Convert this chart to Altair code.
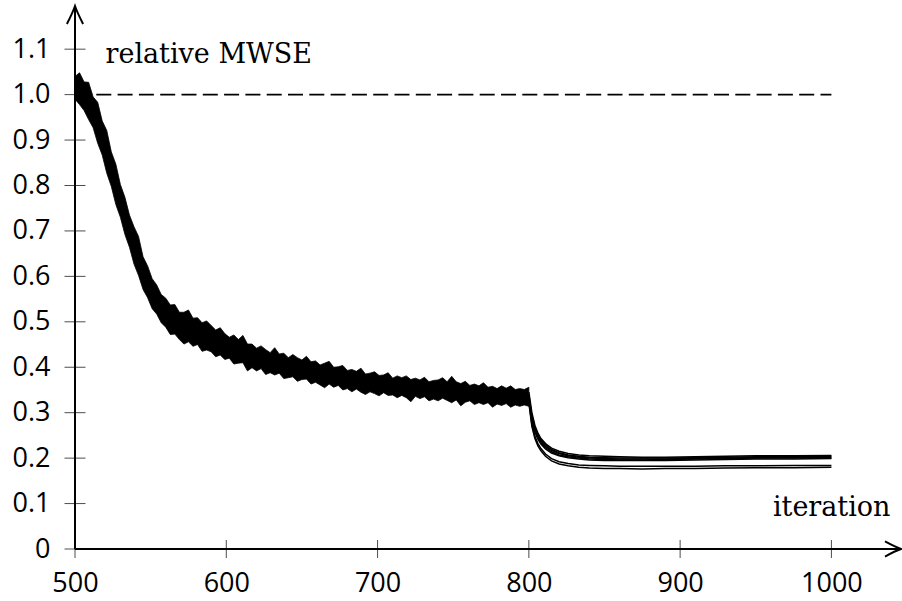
import altair as alt
import pandas as pd

# ---------------- data ----------------
band_iter = list(range(500, 801, 3))
band_upper = [
    1.040, 1.048, 1.028, 1.027, 0.995, 0.983, 0.942, 0.921, 0.874, 0.847,
    0.802, 0.774, 0.735, 0.709, 0.688, 0.643, 0.623, 0.595, 0.581, 0.560,
    0.552, 0.537, 0.538, 0.521, 0.521, 0.526, 0.508, 0.509, 0.498, 0.502,
    0.492, 0.482, 0.487, 0.474, 0.466, 0.471, 0.461, 0.470, 0.451, 0.451,
    0.442, 0.447, 0.439, 0.432, 0.443, 0.429, 0.431, 0.421, 0.428, 0.421,
    0.416, 0.424, 0.412, 0.414, 0.405, 0.409, 0.413, 0.400, 0.401, 0.404,
    0.393, 0.395, 0.391, 0.398, 0.385, 0.387, 0.390, 0.382, 0.383, 0.388,
    0.376, 0.381, 0.377, 0.381, 0.373, 0.376, 0.372, 0.378, 0.368, 0.371,
    0.372, 0.377, 0.368, 0.380, 0.368, 0.364, 0.369, 0.360, 0.363, 0.359,
    0.366, 0.356, 0.358, 0.353, 0.359, 0.354, 0.359, 0.351, 0.353, 0.351,
    0.356,
]
band_lower = [
    0.990, 0.978, 0.965, 0.945, 0.927, 0.893, 0.867, 0.827, 0.798, 0.758,
    0.730, 0.692, 0.664, 0.627, 0.602, 0.571, 0.553, 0.529, 0.517, 0.498,
    0.488, 0.472, 0.473, 0.461, 0.451, 0.456, 0.446, 0.450, 0.435, 0.438,
    0.434, 0.423, 0.427, 0.417, 0.420, 0.407, 0.409, 0.410, 0.392, 0.399,
    0.392, 0.397, 0.384, 0.388, 0.383, 0.387, 0.375, 0.377, 0.379, 0.369,
    0.373, 0.374, 0.363, 0.367, 0.361, 0.355, 0.363, 0.356, 0.360, 0.350,
    0.353, 0.346, 0.352, 0.345, 0.340, 0.346, 0.342, 0.337, 0.344, 0.338,
    0.339, 0.333, 0.338, 0.333, 0.324, 0.336, 0.331, 0.335, 0.326, 0.330,
    0.326, 0.332, 0.327, 0.322, 0.328, 0.315, 0.323, 0.326, 0.318, 0.322,
    0.318, 0.322, 0.312, 0.319, 0.316, 0.320, 0.312, 0.317, 0.314, 0.317,
    0.314,
]

late_iter = [800, 802, 804, 806, 808, 811, 815, 820, 826, 833,
             840, 850, 860, 875, 890, 910, 930, 950, 975, 1000]
run_u1 = [0.345, 0.300, 0.272, 0.255, 0.243, 0.232, 0.222, 0.215, 0.210, 0.207,
          0.205, 0.204, 0.203, 0.202, 0.202, 0.203, 0.204, 0.205, 0.205, 0.206]
run_u2 = [0.335, 0.294, 0.268, 0.251, 0.240, 0.229, 0.219, 0.212, 0.207, 0.204,
          0.202, 0.201, 0.200, 0.200, 0.200, 0.201, 0.202, 0.203, 0.203, 0.204]
run_u3 = [0.340, 0.290, 0.264, 0.248, 0.237, 0.226, 0.217, 0.210, 0.205, 0.202,
          0.200, 0.199, 0.198, 0.198, 0.198, 0.199, 0.200, 0.201, 0.202, 0.202]
run_u4 = [0.328, 0.286, 0.260, 0.245, 0.234, 0.223, 0.214, 0.207, 0.203, 0.200,
          0.198, 0.197, 0.196, 0.196, 0.197, 0.198, 0.199, 0.200, 0.200, 0.200]
run_u5 = [0.332, 0.283, 0.257, 0.242, 0.231, 0.220, 0.211, 0.205, 0.201, 0.198,
          0.196, 0.195, 0.195, 0.195, 0.195, 0.196, 0.197, 0.198, 0.198, 0.199]
run_l1 = [0.325, 0.275, 0.248, 0.232, 0.221, 0.209, 0.199, 0.192, 0.188, 0.185,
          0.184, 0.183, 0.182, 0.182, 0.182, 0.182, 0.183, 0.183, 0.184, 0.184]
run_l2 = [0.322, 0.270, 0.243, 0.227, 0.216, 0.204, 0.194, 0.187, 0.183, 0.180,
          0.178, 0.177, 0.177, 0.176, 0.177, 0.177, 0.178, 0.179, 0.179, 0.180]

x_ticks = [500, 600, 700, 800, 900, 1000]
y_ticks = [0, 0.1, 0.2, 0.3, 0.4, 0.5, 0.6, 0.7, 0.8, 0.9, 1.0, 1.1]
ref_level = 1.0
ref_start, ref_end = 500, 1000
x_min, x_max = 500, 1046
y_min, y_max = 0, 1.195

# ---------------- tables ----------------
band_df = pd.DataFrame({"iteration": band_iter, "upper": band_upper, "lower": band_lower})
runs = {"u1": run_u1, "u2": run_u2, "u3": run_u3, "u4": run_u4, "u5": run_u5,
        "l1": run_l1, "l2": run_l2}
late_df = pd.DataFrame([
    {"iteration": it, "value": v, "run": name}
    for name, vals in runs.items() for it, v in zip(late_iter, vals)
])
ref_df = pd.DataFrame({"x": [ref_start], "x2": [ref_end], "y": [ref_level]})
xaxis_df = pd.DataFrame({"x": [x_min], "x2": [x_max], "y": [0]})
yaxis_df = pd.DataFrame({"x": [x_min], "y": [y_min], "y2": [y_max]})
xt_df = pd.DataFrame({"x": x_ticks, "y": [0] * len(x_ticks)})
yt_df = pd.DataFrame({"x": [x_min] * len(y_ticks), "y": y_ticks})
xarrow_df = pd.DataFrame({"x": [x_max], "y": [0]})
yarrow_df = pd.DataFrame({"x": [x_min], "y": [y_max]})

xs = alt.Scale(domain=[x_min, x_max], nice=False, zero=False)
ys = alt.Scale(domain=[y_min, y_max], nice=False, zero=False)

x_axis = alt.Axis(
    values=x_ticks, format="d", domain=False, ticks=False, grid=False,
    labelFont="Open Sans", labelFontSize=27, labelColor="black",
    labelPadding=21, labelFlush=False, labelOverlap=False, labelBound=False,
    title="iteration", titleFont="DejaVu Serif", titleFontSize=27,
    titleFontWeight="normal", titleColor="black",
    titleX=815, titleY=-34, titleAlign="right", titleBaseline="alphabetic",
)
y_axis = alt.Axis(
    values=y_ticks, domain=False, ticks=False, grid=False,
    labelExpr="datum.value == 0 ? '0' : format(datum.value, '.1f')",
    labelFont="Open Sans", labelFontSize=27, labelColor="black",
    labelPadding=25, labelFlush=False, labelOverlap=False, labelBound=False,
    title="relative MWSE", titleFont="DejaVu Serif", titleFontSize=27,
    titleFontWeight="normal", titleColor="black", titleAngle=0,
    titleX=30, titleY=56, titleAlign="left", titleBaseline="alphabetic",
)


def X(field):
    return alt.X(field, scale=xs, axis=x_axis)


def Y(field):
    return alt.Y(field, scale=ys, axis=y_axis)


ref = alt.Chart(ref_df).mark_rule(color="black", strokeWidth=1.8, strokeDash=[15, 6.3]).encode(
    x=X("x:Q"), x2="x2:Q", y=Y("y:Q"),
)

band = alt.Chart(band_df).mark_area(color="black", stroke="black", strokeWidth=0.8).encode(
    x=X("iteration:Q"), y=Y("upper:Q"), y2="lower:Q",
)

late = alt.Chart(late_df).mark_line(color="black", strokeWidth=1.5).encode(
    x=X("iteration:Q"), y=Y("value:Q"), detail="run:N",
)

xaxis_line = alt.Chart(xaxis_df).mark_rule(color="black", strokeWidth=2).encode(
    x=X("x:Q"), x2="x2:Q", y=Y("y:Q"),
)
yaxis_line = alt.Chart(yaxis_df).mark_rule(color="black", strokeWidth=2).encode(
    x=X("x:Q"), y=Y("y:Q"), y2="y2:Q",
)
xt = alt.Chart(xt_df).mark_tick(orient="vertical", size=18, thickness=1, color="black").encode(
    x=X("x:Q"), y=Y("y:Q"),
)
yt = alt.Chart(yt_df).mark_tick(orient="horizontal", size=21, thickness=1, color="black").encode(
    x=X("x:Q"), y=Y("y:Q"),
)
xarrow = alt.Chart(xarrow_df).mark_point(
    shape="M-1,-0.47 Q-0.35,-0.12 0,0 Q-0.35,0.12 -1,0.47",
    size=1024, filled=False, stroke="black", strokeWidth=2, opacity=1,
).encode(x=X("x:Q"), y=Y("y:Q"))
yarrow = alt.Chart(yarrow_df).mark_point(
    shape="M-0.45,1 Q-0.12,0.35 0,0 Q0.12,0.35 0.45,1",
    size=1296, filled=False, stroke="black", strokeWidth=2, opacity=1,
).encode(x=X("x:Q"), y=Y("y:Q"))

chart = alt.layer(ref, band, late, xaxis_line, yaxis_line, xt, yt, xarrow, yarrow).properties(
    width=826, height=543,
    autosize=alt.AutoSizeParams(type="none"),
    padding={"left": 75, "top": 6, "right": 1, "bottom": 52},
    background="white",
).configure_view(stroke=None)

chart.save("out.html", embed_options={"renderer": "svg", "actions": False})
